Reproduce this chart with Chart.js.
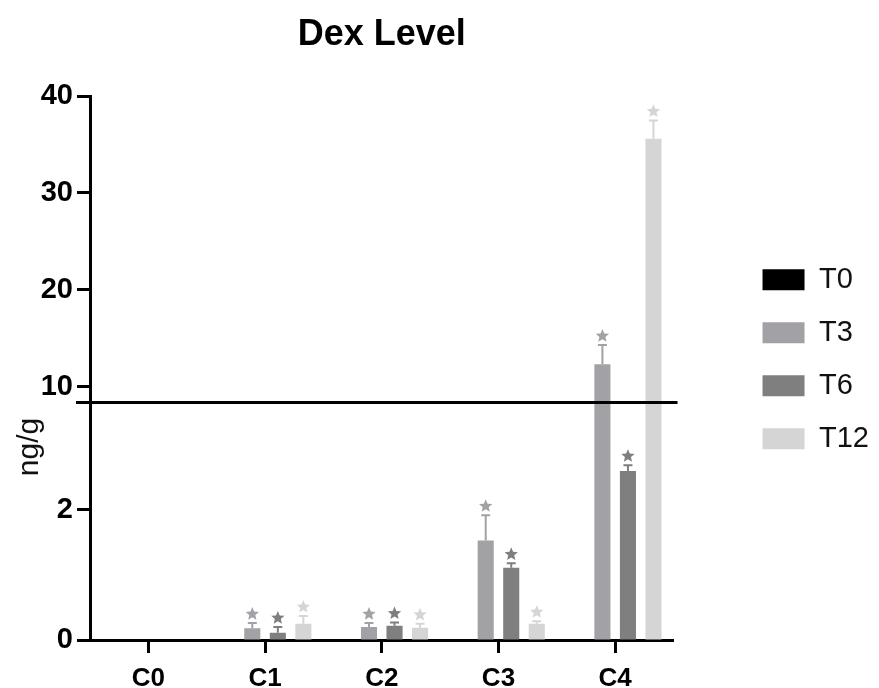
<!DOCTYPE html>
<html>
<head>
<meta charset="utf-8">
<script src="https://cdn.jsdelivr.net/npm/chart.js@4.4.1/dist/chart.umd.min.js"></script>
<style>
  html, body { margin: 0; padding: 0; background: #fff; }
  #wrap { width: 879px; height: 688px; }
</style>
</head>
<body>
<div id="wrap"><canvas id="dexChart"></canvas></div>
<script>
// values
const categories = ['C0', 'C1', 'C2', 'C3', 'C4'];
const seriesNames = ['T0', 'T3', 'T6', 'T12'];
const t0Values = [0, 0, 0, 0, 0];
const t3Values = [0, 0.18, 0.20, 1.53, 12.3];
const t6Values = [0, 0.11, 0.22, 1.11, 2.6];
const t12Values = [0, 0.25, 0.19, 0.25, 35.6];
const t0Errors = [0, 0, 0, 0, 0];
const t3Errors = [0, 0.08, 0.06, 0.39, 2.0];
const t6Errors = [0, 0.09, 0.05, 0.07, 0.09];
const t12Errors = [0, 0.12, 0.06, 0.04, 1.9];
const t0Stars = [false, false, false, false, false];
const t3Stars = [false, true, true, true, true];
const t6Stars = [false, true, true, true, true];
const t12Stars = [false, true, true, true, true];
const yTicks = [0, 2, 10, 20, 30, 40];

// broken axis: 0..LOW_MAX in the lower part, HIGH_MIN..40 above the break
const LOW_MAX = 3.66;
const HIGH_MIN = 8.4;
const LOWER_FRAC = 0.4375;

const colors = ['#000000', '#a2a2a6', '#7f7f7f', '#d5d5d5'];
const FONT = "'Liberation Sans', Arial, sans-serif";

class BrokenScale extends Chart.LinearScale {
    getPixelForValue(value) {
        const h = this.bottom - this.top;
        const breakPx = this.bottom - h * LOWER_FRAC;
        if (value <= LOW_MAX) {
            return this.bottom - (value / LOW_MAX) * h * LOWER_FRAC;
        }
        if (value >= HIGH_MIN) {
            return breakPx - (value - HIGH_MIN) / (this.max - HIGH_MIN) * h * (1 - LOWER_FRAC);
        }
        return breakPx;
    }
    getValueForPixel(pixel) {
        const h = this.bottom - this.top;
        const breakPx = this.bottom - h * LOWER_FRAC;
        if (pixel >= breakPx) {
            return (this.bottom - pixel) / (h * LOWER_FRAC) * LOW_MAX;
        }
        return HIGH_MIN + (breakPx - pixel) / (h * (1 - LOWER_FRAC)) * (this.max - HIGH_MIN);
    }
}
BrokenScale.id = 'broken';
BrokenScale.defaults = {};
Chart.register(BrokenScale);

function drawStar(ctx, cx, cy, r, color) {
    ctx.save();
    ctx.beginPath();
    for (let k = 0; k < 10; k++) {
        const rad = k % 2 === 0 ? r : r * 0.45;
        const a = -Math.PI / 2 + k * Math.PI / 5;
        const px = cx + rad * Math.cos(a);
        const py = cy + rad * Math.sin(a);
        if (k === 0) ctx.moveTo(px, py); else ctx.lineTo(px, py);
    }
    ctx.closePath();
    ctx.fillStyle = color;
    ctx.fill();
    ctx.restore();
}

const errorBars = {
    id: 'errorBars',
    afterDatasetsDraw(chart) {
        const ctx = chart.ctx;
        const yScale = chart.scales.y;
        chart.data.datasets.forEach((ds, i) => {
            const meta = chart.getDatasetMeta(i);
            meta.data.forEach((bar, j) => {
                const v = ds.data[j];
                if (!v) return;
                const top = yScale.getPixelForValue(v + ds.errors[j]);
                ctx.save();
                ctx.strokeStyle = ds.backgroundColor;
                ctx.lineWidth = 2;
                ctx.beginPath();
                ctx.moveTo(bar.x, bar.y);
                ctx.lineTo(bar.x, top);
                ctx.moveTo(bar.x - 4.5, top);
                ctx.lineTo(bar.x + 4.5, top);
                ctx.stroke();
                ctx.restore();
                if (ds.stars[j]) drawStar(ctx, bar.x, top - 9, 7, ds.backgroundColor);
            });
        });
    }
};

const axisBreak = {
    id: 'axisBreak',
    afterDraw(chart) {
        const ctx = chart.ctx;
        const area = chart.chartArea;
        const yScale = chart.scales.y;
        const y = Math.round(yScale.getPixelForValue(LOW_MAX)) + 0.5;
        ctx.save();
        ctx.strokeStyle = '#000';
        ctx.lineWidth = 3;
        ctx.beginPath();
        ctx.moveTo(area.left - 14, y);
        ctx.lineTo(area.right + 4, y);
        ctx.stroke();
        // y axis title
        ctx.translate(30, 447);
        ctx.rotate(-Math.PI / 2);
        ctx.font = '30px ' + FONT;
        ctx.fillStyle = '#111';
        ctx.textAlign = 'center';
        ctx.textBaseline = 'middle';
        ctx.fillText('ng/g', 0, 0);
        ctx.restore();
    }
};

function makeSet(label, values, errors, stars, color) {
    return {
        label: label,
        data: values,
        errors: errors,
        stars: stars,
        backgroundColor: color,
        borderWidth: 0,
        categoryPercentage: 0.875,
        barPercentage: 0.63
    };
}

new Chart(document.getElementById('dexChart').getContext('2d'), {
    type: 'bar',
    data: {
        labels: categories,
        datasets: [
            makeSet(seriesNames[0], t0Values, t0Errors, t0Stars, colors[0]),
            makeSet(seriesNames[1], t3Values, t3Errors, t3Stars, colors[1]),
            makeSet(seriesNames[2], t6Values, t6Errors, t6Stars, colors[2]),
            makeSet(seriesNames[3], t12Values, t12Errors, t12Stars, colors[3])
        ]
    },
    options: {
        responsive: true,
        maintainAspectRatio: false,
        animation: false,
        layout: { padding: 0 },
        plugins: {
            title: {
                display: true,
                text: 'Dex Level',
                fullSize: false,
                color: '#000',
                font: { family: FONT, size: 36, weight: 'bold' },
                padding: { top: 13, bottom: 40 }
            },
            legend: {
                position: 'right',
                title: { display: true, text: ' ', font: { size: 12 }, padding: 8 },
                labels: {
                    color: '#111',
                    font: { family: FONT, size: 29 },
                    boxWidth: 42,
                    boxHeight: 21,
                    padding: 24
                }
            },
            tooltip: { enabled: false }
        },
        scales: {
            x: {
                grid: { display: true, drawOnChartArea: false, offset: false, tickLength: 13, tickWidth: 3, tickColor: '#000' },
                border: { color: '#000', width: 3 },
                ticks: { color: '#000', padding: 10, font: { family: FONT, size: 26, weight: 'bold' } },
                afterFit(scale) { scale.height = 48; }
            },
            y: {
                type: 'broken',
                min: 0,
                max: 40,
                grid: { display: true, drawOnChartArea: false, tickLength: 13, tickWidth: 3, tickColor: '#000' },
                border: { color: '#000', width: 3 },
                ticks: { color: '#000', padding: 4, font: { family: FONT, size: 29, weight: 'bold' } },
                afterBuildTicks(scale) { scale.ticks = yTicks.map(v => ({ value: v })); },
                afterFit(scale) { scale.width = 90; }
            },
            gap: {
                type: 'linear',
                position: 'right',
                display: true,
                grid: { display: false },
                border: { display: false },
                ticks: { display: false },
                afterFit(scale) { scale.width = 65; }
            }
        }
    },
    plugins: [errorBars, axisBreak]
});
</script>
</body>
</html>
